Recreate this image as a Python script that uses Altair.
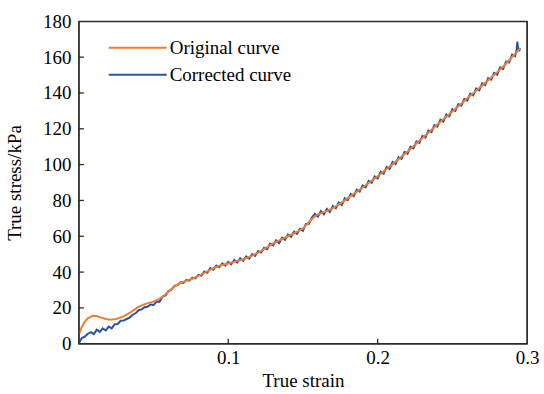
import altair as alt
import pandas as pd

# ---------------- data ----------------
orig_strain = [0.0005, 0.002, 0.004, 0.006, 0.009, 0.012, 0.015, 0.018, 0.021, 0.025,
               0.030, 0.035, 0.040, 0.045, 0.050, 0.053, 0.057, 0.060, 0.064, 0.068,
               0.072, 0.076, 0.080, 0.085, 0.090, 0.095, 0.100, 0.105, 0.110, 0.115,
               0.120, 0.125, 0.130, 0.135, 0.140, 0.145, 0.150, 0.155, 0.159, 0.164,
               0.168, 0.175, 0.180, 0.190, 0.200, 0.210, 0.220, 0.230, 0.240, 0.250,
               0.260, 0.270, 0.280, 0.285, 0.290, 0.2955]
orig_stress = [6.0, 9.5, 12.3, 14.2, 15.6, 15.5, 14.6, 13.8, 13.4, 13.8,
               15.3, 17.8, 20.6, 22.4, 23.5, 24.6, 26.8, 29.0, 32.0, 33.9,
               35.2, 36.3, 37.9, 40.0, 42.2, 43.8, 44.8, 46.0, 47.2, 48.8,
               50.8, 53.4, 56.0, 58.0, 60.0, 62.0, 64.3, 68.8, 71.8, 73.5,
               74.8, 78.2, 81.3, 87.2, 93.5, 100.2, 107.3, 114.8, 122.4, 129.7,
               137.0, 144.2, 151.5, 155.5, 160.2, 164.8]

corr_strain = [0.000, 0.002, 0.004, 0.006, 0.008, 0.010, 0.012, 0.014, 0.016, 0.018,
               0.020, 0.022, 0.024, 0.026, 0.028, 0.030, 0.032, 0.034, 0.036, 0.038,
               0.040, 0.042, 0.044, 0.046, 0.048, 0.050, 0.052, 0.054, 0.056, 0.058,
               0.060, 0.062, 0.064, 0.066, 0.068, 0.070, 0.072, 0.074, 0.076, 0.078,
               0.080, 0.082, 0.084, 0.086, 0.088, 0.090, 0.092, 0.094, 0.096, 0.098,
               0.100, 0.102, 0.104, 0.106, 0.108, 0.110, 0.112, 0.114, 0.116, 0.118,
               0.120, 0.122, 0.124, 0.126, 0.128, 0.130, 0.132, 0.134, 0.136, 0.138,
               0.140, 0.142, 0.144, 0.146, 0.148, 0.150, 0.152, 0.154, 0.156, 0.158,
               0.160, 0.162, 0.164, 0.166, 0.168, 0.170, 0.172, 0.174, 0.176, 0.178,
               0.180, 0.182, 0.184, 0.186, 0.188, 0.190, 0.192, 0.194, 0.196, 0.198,
               0.200, 0.202, 0.204, 0.206, 0.208, 0.210, 0.212, 0.214, 0.216, 0.218,
               0.220, 0.222, 0.224, 0.226, 0.228, 0.230, 0.232, 0.234, 0.236, 0.238,
               0.240, 0.242, 0.244, 0.246, 0.248, 0.250, 0.252, 0.254, 0.256, 0.258,
               0.260, 0.262, 0.264, 0.266, 0.268, 0.270, 0.272, 0.274, 0.276, 0.278,
               0.280, 0.282, 0.284, 0.286, 0.288, 0.290, 0.292, 0.293, 0.2935, 0.294,
               0.295, 0.2955]
corr_stress = [0.3, 3.2, 4.0, 5.6, 6.5, 5.4, 7.8, 6.6, 8.6, 7.4,
               9.6, 8.6, 10.9, 11.0, 12.8, 13.0, 13.8, 14.6, 16.2, 17.0,
               18.7, 19.2, 20.4, 20.6, 21.9, 21.6, 23.6, 23.4, 26.3, 27.0,
               29.4, 30.2, 32.3, 32.7, 34.3, 34.0, 35.7, 35.2, 36.9, 36.5,
               38.5, 38.0, 40.3, 39.6, 42.2, 41.3, 43.6, 42.7, 44.9, 43.6,
               45.7, 44.4, 46.8, 45.3, 47.7, 46.3, 48.8, 47.6, 50.1, 49.1,
               51.7, 50.9, 53.6, 52.8, 55.9, 54.9, 57.7, 56.2, 59.2, 58.0,
               61.0, 59.7, 62.6, 61.4, 64.1, 63.1, 66.9, 67.0, 70.4, 72.5,
               70.9, 74.0, 72.3, 75.3, 73.5, 76.9, 75.6, 78.8, 77.4, 81.2,
               80.2, 83.6, 82.4, 86.0, 85.0, 88.4, 87.3, 90.9, 89.8, 93.4,
               92.3, 96.0, 94.9, 98.7, 97.6, 101.4, 100.3, 104.2, 103.2, 107.1,
               106.1, 110.0, 109.1, 113.0, 112.1, 116.0, 115.1, 119.1, 118.2, 122.1,
               121.2, 125.1, 124.1, 128.0, 127.0, 130.9, 130.0, 133.8, 132.9, 136.7,
               135.8, 139.6, 138.7, 142.5, 141.5, 145.4, 144.4, 148.3, 147.4, 151.2,
               150.2, 154.3, 153.4, 157.6, 157.0, 161.4, 160.6, 163.8, 168.6, 165.2,
               164.0, 164.9]

series_names = ["Original curve", "Corrected curve"]
series_colors = ["#EF7D31", "#2B53A3"]

x_ticks = [0.1, 0.2, 0.3]
y_ticks = [0, 20, 40, 60, 80, 100, 120, 140, 160, 180]
x_inner_ticks = [0.1, 0.2]
y_inner_ticks = [20, 40, 60, 80, 100, 120, 140, 160]

# ---------------- tables ----------------
df_orig = pd.DataFrame({"strain": orig_strain, "stress": orig_stress,
                        "series": series_names[0]})
df_corr = pd.DataFrame({"strain": corr_strain, "stress": corr_stress,
                        "series": series_names[1]})
df_xt = pd.DataFrame({"strain": x_inner_ticks})
df_yt = pd.DataFrame({"stress": y_inner_ticks})
df_frame = pd.DataFrame({"strain": [0.0], "strain2": [0.3],
                         "stress": [0.0], "stress2": [180.0]})

FONT = "Liberation Serif"
W, H = 449, 323
FRAME = "#2a2a2a"

xscale = alt.Scale(domain=[0, 0.3], nice=False, zero=False)
yscale = alt.Scale(domain=[0, 180], nice=False, zero=False)

color = alt.Color(
    "series:N",
    scale=alt.Scale(domain=series_names, range=series_colors),
    legend=alt.Legend(
        title=None, orient="none", legendX=29, legendY=13,
        symbolType="stroke", symbolSize=3364, symbolStrokeWidth=2,
        clipHeight=27, rowPadding=0, labelOffset=2, padding=0,
        labelFont=FONT, labelFontSize=19, labelColor="black",
    ),
)

xaxis = alt.Axis(title="True strain", values=x_ticks, format=".1f",
                 ticks=False, tickSize=0, domain=False, grid=False,
                 labelOverlap=False, labelFlush=False,
                 labelPadding=5, titlePadding=4)
yaxis = alt.Axis(title="True stress/kPa", values=y_ticks, format="d",
                 ticks=False, tickSize=0, domain=False, grid=False,
                 labelOverlap=False, labelFlush=False,
                 labelPadding=8, titlePadding=18)

xenc = alt.X("strain:Q", scale=xscale, axis=xaxis)
yenc = alt.Y("stress:Q", scale=yscale, axis=yaxis)

corr_line = alt.Chart(df_corr).mark_line(strokeWidth=2).encode(
    x=xenc, y=yenc, color=color, order="strain:Q")
orig_line = alt.Chart(df_orig).mark_line(strokeWidth=2).encode(
    x=xenc, y=yenc, color=color, order="strain:Q")

xt_rules = alt.Chart(df_xt).mark_rule(color=FRAME, strokeWidth=1.3).encode(
    x=alt.X("strain:Q", scale=xscale, axis=xaxis),
    y=alt.value(H), y2=alt.value(H - 5))
yt_rules = alt.Chart(df_yt).mark_rule(color=FRAME, strokeWidth=1.3).encode(
    y=alt.Y("stress:Q", scale=yscale, axis=yaxis),
    x=alt.value(0), x2=alt.value(5))

frame = alt.Chart(df_frame).mark_rect(
    fill="transparent", stroke=FRAME, strokeWidth=1.3
).encode(
    x=alt.X("strain:Q", scale=xscale, axis=xaxis), x2="strain2:Q",
    y=alt.Y("stress:Q", scale=yscale, axis=yaxis), y2="stress2:Q",
)

chart = alt.layer(corr_line, orig_line, xt_rules, yt_rules, frame).properties(
    width=W, height=H,
    title=alt.TitleParams(text=" ", fontSize=2, offset=5),
).configure_view(
    stroke=FRAME, strokeWidth=1.3
).configure_axis(
    labelFont=FONT, labelFontSize=19, labelColor="black",
    titleFont=FONT, titleFontSize=19, titleColor="black", titleFontWeight="normal",
)

chart.save("out.html", embed_options={"renderer": "svg", "actions": False})
